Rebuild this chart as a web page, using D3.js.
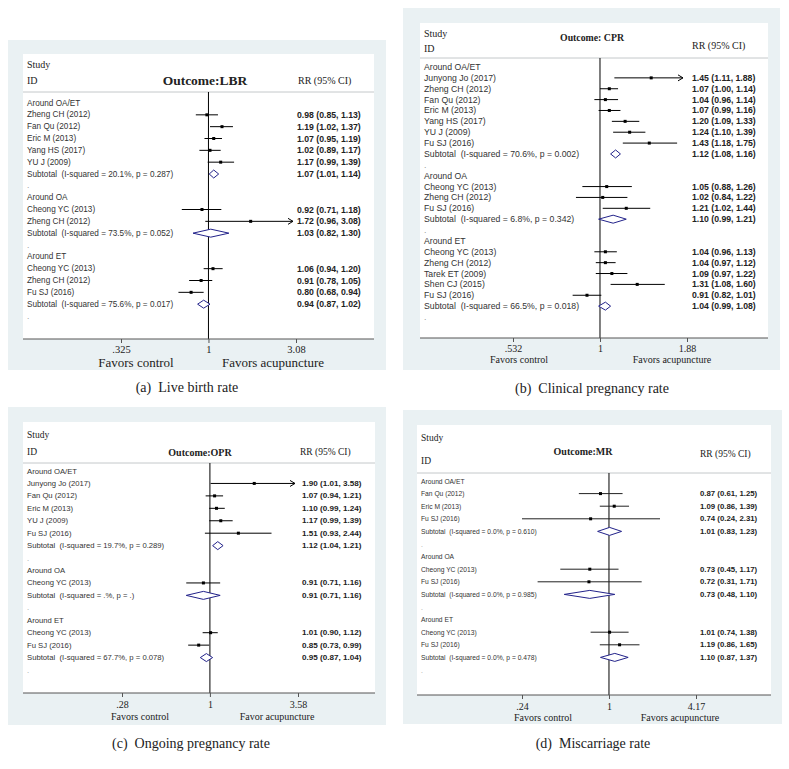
<!DOCTYPE html>
<html><head><meta charset="utf-8">
<script src="https://cdn.jsdelivr.net/npm/d3@7"></script>
<style>
html,body{margin:0;padding:0;background:#fff;}
svg{display:block;}
text{white-space:pre;}
</style></head><body>
<svg id="chart" width="789" height="769"></svg>
<script>
// ---------- (a) Live birth rate ----------
const lbrGroups = ["Around OA/ET", "Around OA", "Around ET"];
const lbrStudies = ["Zheng CH (2012)", "Fan Qu (2012)", "Eric M (2013)", "Yang HS (2017)", "YU J (2009)",
  "Cheong YC (2013)", "Zheng CH (2012)",
  "Cheong YC (2013)", "Zheng CH (2012)", "Fu SJ (2016)"];
const lbrStudyGroup = [0, 0, 0, 0, 0, 1, 1, 2, 2, 2];
const lbrRR    = [0.98, 1.19, 1.07, 1.02, 1.17, 0.92, 1.72, 1.06, 0.91, 0.80];
const lbrLower = [0.85, 1.02, 0.95, 0.89, 0.99, 0.71, 0.96, 0.94, 0.78, 0.68];
const lbrUpper = [1.13, 1.37, 1.19, 1.17, 1.39, 1.18, 3.08, 1.20, 1.05, 0.94];
const lbrSubRR    = [1.07, 1.03, 0.94];
const lbrSubLower = [1.01, 0.82, 0.87];
const lbrSubUpper = [1.14, 1.30, 1.02];
const lbrI2 = ["20.1", "73.5", "75.6"];
const lbrP  = ["0.287", "0.052", "0.017"];
const lbrTicks = [0.325, 1, 3.08];
const lbrTickLabels = [".325", "1", "3.08"];

// ---------- (b) Clinical pregnancy rate ----------
const cprGroups = ["Around OA/ET", "Around OA", "Around ET"];
const cprStudies = ["Junyong Jo (2017)", "Zheng CH (2012)", "Fan Qu (2012)", "Eric M (2013)", "Yang HS (2017)", "YU J (2009)", "Fu SJ (2016)",
  "Cheong YC (2013)", "Zheng CH (2012)", "Fu SJ (2016)",
  "Cheong YC (2013)", "Zheng CH (2012)", "Tarek ET (2009)", "Shen CJ (2015)", "Fu SJ (2016)"];
const cprStudyGroup = [0, 0, 0, 0, 0, 0, 0, 1, 1, 1, 2, 2, 2, 2, 2];
const cprRR    = [1.45, 1.07, 1.04, 1.07, 1.20, 1.24, 1.43, 1.05, 1.02, 1.21, 1.04, 1.04, 1.09, 1.31, 0.91];
const cprLower = [1.11, 1.00, 0.96, 0.99, 1.09, 1.10, 1.18, 0.88, 0.84, 1.02, 0.96, 0.97, 0.97, 1.08, 0.82];
const cprUpper = [1.88, 1.14, 1.14, 1.16, 1.33, 1.39, 1.75, 1.26, 1.22, 1.44, 1.13, 1.12, 1.22, 1.60, 1.01];
const cprSubRR    = [1.12, 1.10, 1.04];
const cprSubLower = [1.08, 0.99, 0.99];
const cprSubUpper = [1.16, 1.21, 1.08];
const cprI2 = ["70.6", "6.8", "66.5"];
const cprP  = ["0.002", "0.342", "0.018"];
const cprTicks = [0.532, 1, 1.88];
const cprTickLabels = [".532", "1", "1.88"];

// ---------- (c) Ongoing pregnancy rate ----------
const oprGroups = ["Around OA/ET", "Around OA", "Around ET"];
const oprStudies = ["Junyong Jo (2017)", "Fan Qu (2012)", "Eric M (2013)", "YU J (2009)", "Fu SJ (2016)",
  "Cheong YC (2013)",
  "Cheong YC (2013)", "Fu SJ (2016)"];
const oprStudyGroup = [0, 0, 0, 0, 0, 1, 2, 2];
const oprRR    = [1.90, 1.07, 1.10, 1.17, 1.51, 0.91, 1.01, 0.85];
const oprLower = [1.01, 0.94, 0.99, 0.99, 0.93, 0.71, 0.90, 0.73];
const oprUpper = [3.58, 1.21, 1.24, 1.39, 2.44, 1.16, 1.12, 0.99];
const oprSubRR    = [1.12, 0.91, 0.95];
const oprSubLower = [1.04, 0.71, 0.87];
const oprSubUpper = [1.21, 1.16, 1.04];
const oprI2 = ["19.7", ".", "67.7"];
const oprP  = ["0.289", ".", "0.078"];
const oprTicks = [0.28, 1, 3.58];
const oprTickLabels = [".28", "1", "3.58"];

// ---------- (d) Miscarriage rate ----------
const mrGroups = ["Around OA/ET", "Around OA", "Around ET"];
const mrStudies = ["Fan Qu (2012)", "Eric M (2013)", "Fu SJ (2016)",
  "Cheong YC (2013)", "Fu SJ (2016)",
  "Cheong YC (2013)", "Fu SJ (2016)"];
const mrStudyGroup = [0, 0, 0, 1, 1, 2, 2];
const mrRR    = [0.87, 1.09, 0.74, 0.73, 0.72, 1.01, 1.19];
const mrLower = [0.61, 0.86, 0.24, 0.45, 0.31, 0.74, 0.86];
const mrUpper = [1.25, 1.39, 2.31, 1.17, 1.71, 1.38, 1.65];
const mrSubRR    = [1.01, 0.73, 1.10];
const mrSubLower = [0.83, 0.48, 0.87];
const mrSubUpper = [1.23, 1.10, 1.37];
const mrI2 = ["0.0", "0.0", "0.0"];
const mrP  = ["0.610", "0.985", "0.478"];
const mrTicks = [0.24, 1, 4.17];
const mrTickLabels = [".24", "1", "4.17"];

const SANS = "'Liberation Sans', Arial, Helvetica, sans-serif";
const SERIF = "'Liberation Serif', 'Times New Roman', Times, serif";
const svg = d3.select("#chart");

function drawPanel(L, D) {
  const g = svg.append("g");
  // background regions
  g.append("rect").attr("x", L.grey[0]).attr("y", L.grey[1])
    .attr("width", L.grey[2] - L.grey[0]).attr("height", L.grey[3] - L.grey[1])
    .attr("fill", "#eaf1f3");
  g.append("rect").attr("x", L.white[0]).attr("y", L.white[1])
    .attr("width", L.white[2] - L.white[0]).attr("height", L.axisY - L.white[1])
    .attr("fill", "#ffffff");

  // header
  const hdr = (txt, x, y, size, weight, anchor) => g.append("text")
    .attr("x", x).attr("y", y).attr("dominant-baseline", "central")
    .attr("text-anchor", anchor || "start")
    .attr("font-family", SERIF).attr("font-size", size).attr("font-weight", weight || "normal")
    .attr("fill", "#222").text(txt);
  hdr("Study", L.study[0], L.study[1], L.hdrSize);
  hdr("ID", L.id[0], L.id[1], L.hdrSize);
  hdr(D.title, L.outcome[0], L.outcome[1], L.outcome[2], "bold", "middle");
  hdr("RR (95% CI)", L.rr[0], L.rr[1], L.hdrSize);
  g.append("line").attr("x1", L.white[0]).attr("x2", L.white[2])
    .attr("y1", L.headerLineY).attr("y2", L.headerLineY)
    .attr("stroke", "#c4c8ca").attr("stroke-width", 1);

  // rows
  const rows = [];
  D.groups.forEach((name, gi) => {
    rows.push({ type: "group", label: name });
    D.studies.forEach((s, i) => {
      if (D.studyGroup[i] === gi) rows.push({ type: "study", label: s, rr: D.rr[i], lo: D.lower[i], hi: D.upper[i] });
    });
    rows.push({ type: "sub", label: "Subtotal  (I-squared = " + D.i2[gi] + "%, p = " + D.p[gi] + ")",
      rr: D.subRR[gi], lo: D.subLower[gi], hi: D.subUpper[gi] });
    rows.push({ type: "blank", label: "." });
  });

  const y = d3.scalePoint().domain(d3.range(rows.length)).range([L.rowTop, L.rowBottom]);
  const dMin = D.ticks[0], dMax = D.ticks[D.ticks.length - 1];
  const x = d3.scaleLog().domain([dMin, dMax]).range(L.xRange);

  // null line
  g.append("line").attr("x1", x(1)).attr("x2", x(1))
    .attr("y1", L.headerLineY).attr("y2", L.axisY)
    .attr("stroke", "#000").attr("stroke-width", 1);

  const fmt = v => v.toFixed(2);
  rows.forEach((r, i) => {
    const yy = y(i);
    g.append("text").attr("x", L.leftX).attr("y", yy).attr("dominant-baseline", "central")
      .attr("font-family", SANS).attr("font-size", L.leftSize)
      .attr("fill", r.type === "blank" ? "#999" : "#333").text(r.label);
    if (r.type === "study" || r.type === "sub") {
      g.append("text").attr("x", L.rightX).attr("y", yy).attr("dominant-baseline", "central")
        .attr("font-family", SANS).attr("font-size", L.rightSize).attr("font-weight", "bold")
        .attr("fill", "#222").text(fmt(r.rr) + " (" + fmt(r.lo) + ", " + fmt(r.hi) + ")");
    }
    if (r.type === "study") {
      const clipped = r.hi >= dMax;
      const x0 = x(Math.max(r.lo, dMin));
      const x1 = clipped ? x(dMax) - L.arrowInset : x(r.hi);
      g.append("line").attr("x1", x0).attr("x2", x1).attr("y1", yy).attr("y2", yy)
        .attr("stroke", L.ciColor).attr("stroke-width", 1);
      if (clipped) {
        g.append("path").attr("d", `M${x1 - 5},${yy - 3} L${x1},${yy} L${x1 - 5},${yy + 3}`)
          .attr("fill", "none").attr("stroke", L.ciColor).attr("stroke-width", 1);
      }
      g.append("rect").attr("x", x(r.rr) - 1.5).attr("y", yy - 1.5)
        .attr("width", 3).attr("height", 3).attr("fill", "#000");
    }
    if (r.type === "sub") {
      const h = 4;
      g.append("path")
        .attr("d", `M${x(r.lo)},${yy} L${x(r.rr)},${yy - h} L${x(r.hi)},${yy} L${x(r.rr)},${yy + h} Z`)
        .attr("fill", "#fff").attr("stroke", "#22228a").attr("stroke-width", 1);
    }
  });

  // axis
  g.append("line").attr("x1", L.white[0]).attr("x2", L.white[2])
    .attr("y1", L.axisY).attr("y2", L.axisY).attr("stroke", "#555").attr("stroke-width", 1);
  const ax = g.append("g").attr("transform", `translate(0,${L.axisY})`)
    .call(d3.axisBottom(x).tickValues(D.ticks).tickFormat((d, i) => D.tickLabels[i])
      .tickSize(4).tickPadding(L.tickPad));
  ax.select(".domain").remove();
  ax.selectAll(".tick line").attr("stroke", "#555");
  ax.selectAll(".tick text").attr("font-family", SERIF).attr("font-size", L.tickSize).attr("fill", "#222");

  g.append("text").attr("x", L.favCtrlX).attr("y", L.favY).attr("text-anchor", "middle")
    .attr("dominant-baseline", "central").attr("font-family", SERIF).attr("font-size", L.favSize)
    .attr("fill", "#222").text(D.favCtrl);
  g.append("text").attr("x", L.favAcuX).attr("y", L.favY).attr("text-anchor", "middle")
    .attr("dominant-baseline", "central").attr("font-family", SERIF).attr("font-size", L.favSize)
    .attr("fill", "#222").text(D.favAcu);

  // caption
  g.append("text").attr("x", L.caption[0]).attr("y", L.caption[1]).attr("text-anchor", "middle")
    .attr("dominant-baseline", "central").attr("font-family", SERIF).attr("font-size", 14)
    .attr("fill", "#222").text(D.caption);
}

drawPanel({
  grey: [8, 40, 386, 370], white: [23, 54, 374], axisY: 339, headerLineY: 92,
  study: [27, 64], id: [27, 80], outcome: [205, 80, 13.5], rr: [298, 80], hdrSize: 10,
  rowTop: 103, rowBottom: 316, xRange: [121, 296], leftX: 27, rightX: 297,
  leftSize: 8.2, rightSize: 8.7, ciColor: "#000", tickPad: 3, tickSize: 10.5, arrowInset: 3,
  favY: 362, favCtrlX: 136, favAcuX: 273, favSize: 13, caption: [187, 387]
}, {
  title: "Outcome:LBR", groups: lbrGroups, studies: lbrStudies, studyGroup: lbrStudyGroup,
  rr: lbrRR, lower: lbrLower, upper: lbrUpper, subRR: lbrSubRR, subLower: lbrSubLower, subUpper: lbrSubUpper,
  i2: lbrI2, p: lbrP, ticks: lbrTicks, tickLabels: lbrTickLabels,
  favCtrl: "Favors control", favAcu: "Favors acupuncture", caption: "(a)  Live birth rate"
});

drawPanel({
  grey: [403, 8, 780, 370], white: [420, 23, 768], axisY: 338, headerLineY: 58,
  study: [424, 33], id: [424, 48], outcome: [592, 37, 9.8], rr: [692, 45], hdrSize: 10,
  rowTop: 67, rowBottom: 317, xRange: [513, 687], leftX: 424, rightX: 692,
  leftSize: 8.7, rightSize: 8.7, ciColor: "#000", tickPad: 3, tickSize: 10, arrowInset: 4,
  favY: 359, favCtrlX: 519, favAcuX: 672, favSize: 10, caption: [592, 388]
}, {
  title: "Outcome: CPR", groups: cprGroups, studies: cprStudies, studyGroup: cprStudyGroup,
  rr: cprRR, lower: cprLower, upper: cprUpper, subRR: cprSubRR, subLower: cprSubLower, subUpper: cprSubUpper,
  i2: cprI2, p: cprP, ticks: cprTicks, tickLabels: cprTickLabels,
  favCtrl: "Favors control", favAcu: "Favors acupuncture", caption: "(b)  Clinical pregnancy rate"
});

drawPanel({
  grey: [8, 407, 386, 725], white: [23, 422, 375], axisY: 693, headerLineY: 463,
  study: [27, 435], id: [27, 452], outcome: [200, 452, 10], rr: [300, 452], hdrSize: 9.5,
  rowTop: 471, rowBottom: 670, xRange: [122, 298], leftX: 27, rightX: 302,
  leftSize: 7.7, rightSize: 8.1, ciColor: "#000", tickPad: 4, tickSize: 10, arrowInset: 3,
  favY: 716, favCtrlX: 140, favAcuX: 277, favSize: 10, caption: [191, 743]
}, {
  title: "Outcome:OPR", groups: oprGroups, studies: oprStudies, studyGroup: oprStudyGroup,
  rr: oprRR, lower: oprLower, upper: oprUpper, subRR: oprSubRR, subLower: oprSubLower, subUpper: oprSubUpper,
  i2: oprI2, p: oprP, ticks: oprTicks, tickLabels: oprTickLabels,
  favCtrl: "Favors control", favAcu: "Favor acupuncture", caption: "(c)  Ongoing pregnancy rate"
});

drawPanel({
  grey: [403, 410, 782, 724], white: [417, 425, 771], axisY: 695, headerLineY: 473,
  study: [421, 438], id: [421, 461], outcome: [583, 451, 10], rr: [700, 454], hdrSize: 9.5,
  rowTop: 481, rowBottom: 670, xRange: [522, 696], leftX: 421, rightX: 700,
  leftSize: 6.7, rightSize: 7.8, ciColor: "#222", tickPad: 4, tickSize: 10, arrowInset: 3,
  favY: 717, favCtrlX: 543, favAcuX: 680, favSize: 10, caption: [593, 743]
}, {
  title: "Outcome:MR", groups: mrGroups, studies: mrStudies, studyGroup: mrStudyGroup,
  rr: mrRR, lower: mrLower, upper: mrUpper, subRR: mrSubRR, subLower: mrSubLower, subUpper: mrSubUpper,
  i2: mrI2, p: mrP, ticks: mrTicks, tickLabels: mrTickLabels,
  favCtrl: "Favors control", favAcu: "Favors acupuncture", caption: "(d)  Miscarriage rate"
});
</script></body></html>
